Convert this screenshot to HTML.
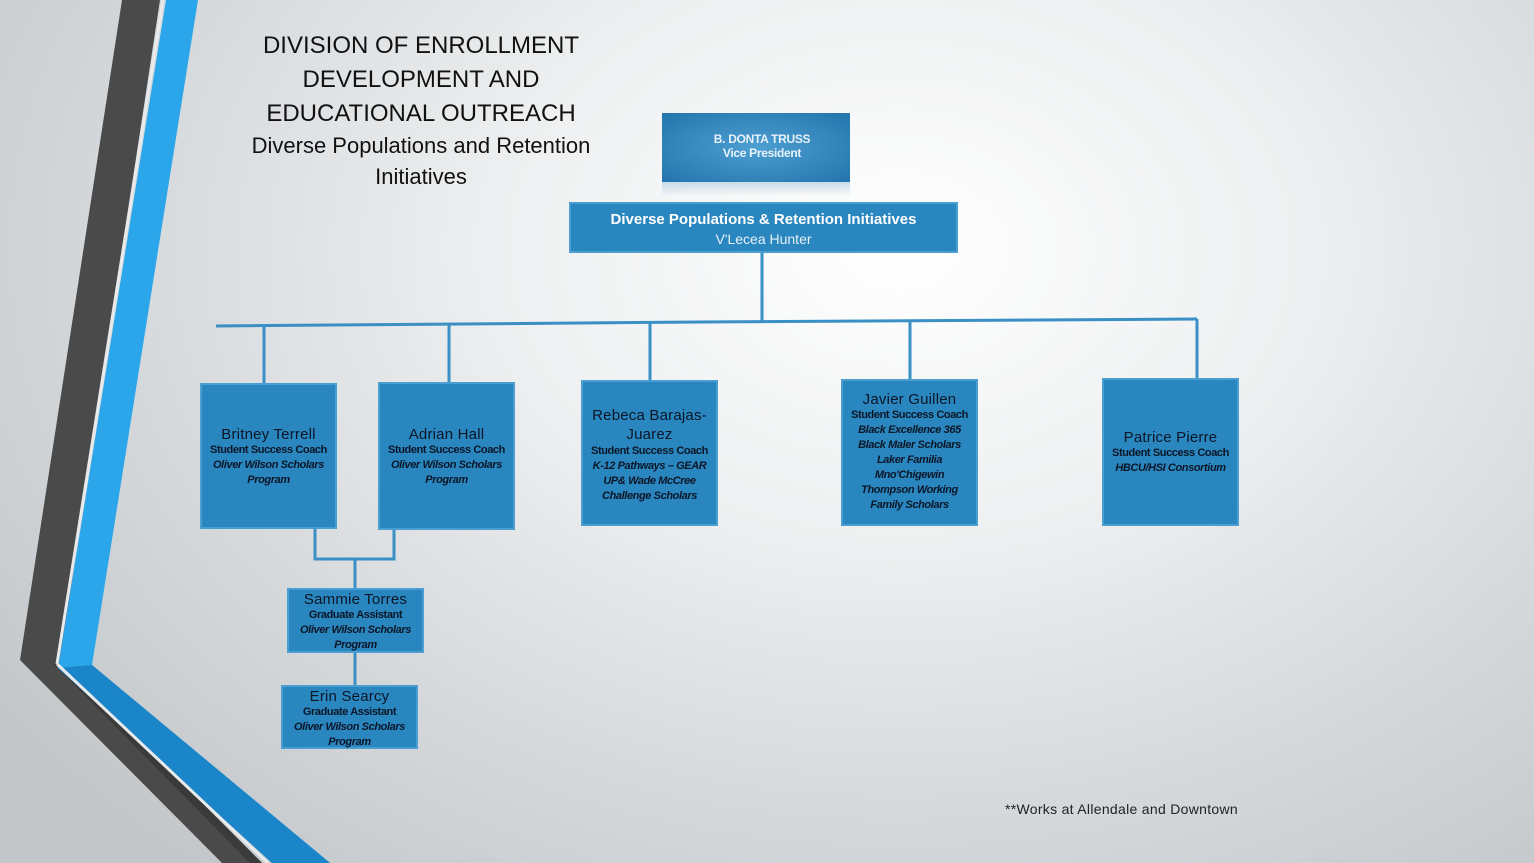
<!DOCTYPE html>
<html><head><meta charset="utf-8"><style>
body{margin:0;width:1534px;height:863px;overflow:hidden;position:relative;font-family:"Liberation Sans",sans-serif;
background:radial-gradient(ellipse 1100px 800px at 900px 250px,#ffffff 0%,#eef0f1 35%,#d6d9dc 70%,#c3c7ca 100%);}
.b{position:absolute;box-sizing:border-box;background:#2a86bf;border:2px solid #4a9ed2;text-align:center;color:#0b1626;}
.n{font-size:15px;line-height:17px;font-weight:normal;letter-spacing:0.2px;}
.t{font-size:11px;font-weight:bold;line-height:15px;letter-spacing:-0.4px;}
.p{font-size:11px;font-weight:bold;font-style:italic;line-height:15px;letter-spacing:-0.4px;}
.title{position:absolute;left:200px;width:442px;text-align:center;color:#111;}
</style></head><body>
<svg width="1534" height="863" style="position:absolute;left:0;top:0">
<polygon points="122,0 160,0 60,660 262,863 222,863 20,660" fill="#4a4a4a"/>
<polygon points="60,660 262,863 250,863 54,664" fill="#3a3a3a"/>
<polygon points="166,0 198,0 92,665 330,863 272,863 58,668" fill="#2ba6ea"/>
<polygon points="58,668 92,665 330,863 272,863" fill="#1a85c8"/>
<line x1="163" y1="0" x2="57" y2="664" stroke="#e8eaec" stroke-width="3"/>
<line x1="57" y1="664" x2="268" y2="863" stroke="#e8eaec" stroke-width="3"/>
<g stroke="#3a8fc4" stroke-width="3" fill="none">
<line x1="762" y1="253" x2="762" y2="322"/>
<polyline points="216,326 700,322 1197,319"/>
<line x1="264" y1="326" x2="264" y2="383"/>
<line x1="449" y1="325" x2="449" y2="382"/>
<line x1="650" y1="323" x2="650" y2="380"/>
<line x1="910" y1="321" x2="910" y2="379"/>
<line x1="1197" y1="319" x2="1197" y2="378"/>
<polyline points="315,529 315,559 394,559 394,530"/>
<line x1="355" y1="559" x2="355" y2="589"/>
<line x1="355" y1="653" x2="355" y2="685"/>
</g>
</svg>
<div class="title" style="top:29px;font-size:24px;line-height:34px;">DIVISION OF ENROLLMENT<br>DEVELOPMENT AND<br>EDUCATIONAL OUTREACH</div>
<div class="title" style="top:130px;font-size:22px;line-height:31px;">Diverse Populations and Retention<br>Initiatives</div>

<div style="position:absolute;left:662px;top:182px;width:188px;height:14px;background:linear-gradient(#c8dbe8,rgba(230,236,240,0));"></div>
<div style="position:absolute;left:662px;top:113px;width:188px;height:69px;background:radial-gradient(ellipse at center,#4d9fd2,#2274ab);color:#e8f2fa;text-align:center;font-size:12px;font-weight:bold;line-height:14px;box-sizing:border-box;padding-top:19px;padding-left:12px;letter-spacing:-0.3px;">B. DONTA TRUSS<br>Vice President</div>
<div class="b" style="left:569px;top:202px;width:389px;height:51px;color:#fff;padding-top:6px;"><div style="font-size:15px;font-weight:bold;line-height:20px;">Diverse Populations &amp; Retention Initiatives</div><div style="font-size:14px;line-height:18px;color:#e6f0f8;">V'Lecea Hunter</div></div>

<div class="b" style="left:200px;top:383px;width:137px;height:146px;padding-top:41px;"><div class="n">Britney Terrell</div><div class="t">Student Success Coach</div><div class="p">Oliver Wilson Scholars<br>Program</div></div>
<div class="b" style="left:378px;top:382px;width:137px;height:148px;padding-top:42px;"><div class="n">Adrian Hall</div><div class="t">Student Success Coach</div><div class="p">Oliver Wilson Scholars<br>Program</div></div>
<div class="b" style="left:581px;top:380px;width:137px;height:146px;padding-top:24px;"><div class="n" style="line-height:19px">Rebeca Barajas-<br>Juarez</div><div class="t">Student Success Coach</div><div class="p">K-12 Pathways – GEAR<br>UP&amp; Wade McCree<br>Challenge Scholars</div></div>
<div class="b" style="left:841px;top:379px;width:137px;height:147px;padding-top:10px;"><div class="n">Javier Guillen</div><div class="t">Student Success Coach</div><div class="p">Black Excellence 365<br>Black Maler Scholars<br>Laker Familia<br>Mno'Chigewin<br>Thompson Working<br>Family Scholars</div></div>
<div class="b" style="left:1102px;top:378px;width:137px;height:148px;padding-top:49px;"><div class="n">Patrice Pierre</div><div class="t">Student Success Coach</div><div class="p">HBCU/HSI Consortium</div></div>

<div class="b" style="left:287px;top:588px;width:137px;height:65px;padding-top:1px;"><div class="n">Sammie Torres</div><div class="t">Graduate Assistant</div><div class="p">Oliver Wilson Scholars<br>Program</div></div>
<div class="b" style="left:281px;top:685px;width:137px;height:64px;padding-top:1px;"><div class="n">Erin Searcy</div><div class="t">Graduate Assistant</div><div class="p">Oliver Wilson Scholars<br>Program</div></div>

<div style="position:absolute;left:1005px;top:801px;font-size:14px;letter-spacing:0.3px;color:#222;">**Works at Allendale and Downtown</div>
</body></html>
